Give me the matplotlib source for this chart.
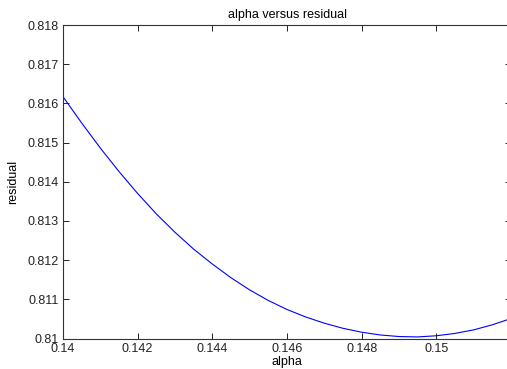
import matplotlib
matplotlib.use('Agg')
import matplotlib.pyplot as plt

# alpha values and residuals
alpha = [0.1400, 0.1405, 0.1410, 0.1415, 0.1420, 0.1425, 0.1430, 0.1435,
         0.1440, 0.1445, 0.1450, 0.1455, 0.1460, 0.1465, 0.1470, 0.1475,
         0.1480, 0.1485, 0.1490, 0.1495, 0.1500, 0.1505, 0.1510, 0.1515,
         0.1520]
residual = [0.81617, 0.81550, 0.81486, 0.81426, 0.81370, 0.81318, 0.81271,
            0.81228, 0.81190, 0.81155, 0.81124, 0.81097, 0.81074, 0.81055,
            0.81039, 0.81026, 0.81016, 0.81009, 0.81005, 0.81004, 0.81007,
            0.81013, 0.81022, 0.81035, 0.81051]

x_ticks = [0.140, 0.142, 0.144, 0.146, 0.148, 0.150]
x_tick_labels = ['0.14', '0.142', '0.144', '0.146', '0.148', '0.15']
y_ticks = [0.810, 0.811, 0.812, 0.813, 0.814, 0.815, 0.816, 0.817, 0.818]
y_tick_labels = ['0.81', '0.811', '0.812', '0.813', '0.814', '0.815',
                 '0.816', '0.817', '0.818']

plt.rcParams['font.family'] = ['Liberation Sans', 'DejaVu Sans']

fig = plt.figure(figsize=(5.07, 3.69), dpi=100)
# axes runs a little past the right edge of the image, as in the reference
ax = fig.add_axes([63 / 507, 1 - 338.5 / 369, 448 / 507, 313.5 / 369])

ax.plot(alpha, residual, color='#0000ff', linewidth=0.8)

ax.set_xlim(0.140, 0.152)
ax.set_ylim(0.810, 0.818)
ax.set_xticks(x_ticks)
ax.set_xticklabels(x_tick_labels)
ax.set_yticks(y_ticks)
ax.set_yticklabels(y_tick_labels)

ax.tick_params(direction='in', length=4, width=0.7, labelsize=9,
               top=True, right=True, colors='#222222', pad=3)
for side in ax.spines.values():
    side.set_linewidth(0.8)
    side.set_color('#333333')

ax.set_title('alpha versus residual', fontsize=9, pad=5)
ax.set_xlabel('alpha', fontsize=9, labelpad=1)
ax.set_ylabel('residual', fontsize=9, labelpad=6)

fig.savefig('out.png', dpi=100)
